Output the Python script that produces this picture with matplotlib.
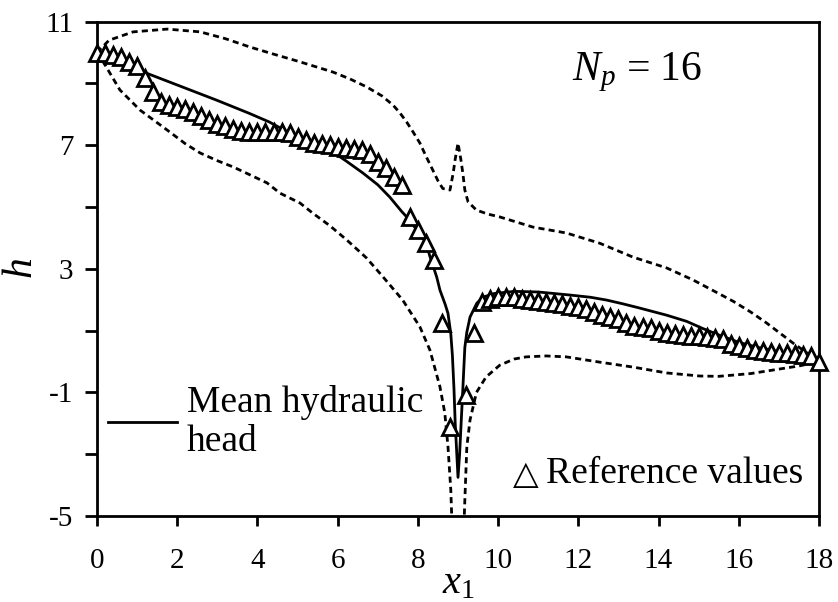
import numpy as np
import matplotlib
matplotlib.use("Agg")
import matplotlib.pyplot as plt

plt.rcParams["font.family"] = ["Liberation Serif", "DejaVu Serif"]
plt.rcParams["mathtext.fontset"] = "custom"
plt.rcParams["mathtext.rm"] = "Liberation Serif"
plt.rcParams["mathtext.it"] = "Liberation Serif:italic"

# reference hydraulic head (grid step 0.2, no value at x1 = 9)
x_ref = [0.0, 0.2, 0.4, 0.6, 0.8, 1.0, 1.2, 1.4, 1.6, 1.8, 2.0, 2.2, 2.4, 2.6, 2.8,
         3.0, 3.2, 3.4, 3.6, 3.8, 4.0, 4.2, 4.4, 4.6, 4.8, 5.0, 5.2, 5.4, 5.6, 5.8,
         6.0, 6.2, 6.4, 6.6, 6.8, 7.0, 7.2, 7.4, 7.6, 7.8, 8.0, 8.2, 8.4, 8.6, 8.8,
         9.2, 9.4, 9.6, 9.8, 10.0, 10.2, 10.4, 10.6, 10.8, 11.0, 11.2, 11.4, 11.6,
         11.8, 12.0, 12.2, 12.4, 12.6, 12.8, 13.0, 13.2, 13.4, 13.6, 13.8, 14.0,
         14.2, 14.4, 14.6, 14.8, 15.0, 15.2, 15.4, 15.6, 15.8, 16.0, 16.2, 16.4,
         16.6, 16.8, 17.0, 17.2, 17.4, 17.6, 17.8, 18.0]
h_ref = [10.0, 10.0, 9.92, 9.85, 9.68, 9.58, 9.18, 8.72, 8.40, 8.30, 8.24, 8.17, 8.08,
         7.95, 7.82, 7.69, 7.62, 7.53, 7.45, 7.43, 7.42, 7.42, 7.42, 7.42, 7.40, 7.27,
         7.17, 7.08, 7.05, 7.01, 6.94, 6.91, 6.88, 6.85, 6.72, 6.46, 6.27, 5.97, 5.71,
         4.68, 4.25, 3.83, 3.28, 1.25, -2.12,
         -1.08, 0.93, 1.92, 2.02, 2.08, 2.08, 2.08, 2.02, 1.99, 1.96, 1.92, 1.89, 1.86,
         1.80, 1.77, 1.70, 1.61, 1.51, 1.45, 1.38, 1.24, 1.15, 1.12, 1.08, 0.99,
         0.93, 0.89, 0.86, 0.83, 0.83, 0.80, 0.77, 0.74, 0.58, 0.51, 0.45, 0.38,
         0.35, 0.32, 0.28, 0.28, 0.25, 0.22, 0.19, 0.0]

# mean hydraulic head, N_p = 16
x_mean = [0.0, 0.5, 1.0, 1.2, 2.0, 3.0, 3.8, 4.3, 4.65, 5.2, 5.8, 6.2, 6.63, 7.0,
          7.3, 7.6, 7.8, 8.0, 8.2, 8.3, 8.47, 8.55, 8.68, 8.75, 8.82, 8.86, 8.9,
          8.93, 8.97, 9.0, 9.04, 9.07, 9.12, 9.17, 9.22, 9.3, 9.47, 9.62, 9.9, 10.4,
          11.0, 11.8, 12.3, 12.7, 13.1, 13.5, 14.2, 14.7, 15.1, 15.5, 16.0, 16.5,
          17.0, 17.5, 18.0]
h_mean = [10.0, 9.9, 9.62, 9.35, 8.95, 8.45, 8.03, 7.75, 7.5, 7.15, 6.85, 6.5, 6.1,
          5.72, 5.32, 4.85, 4.57, 4.2, 3.85, 3.4, 2.73, 2.31, 1.85, 1.56, 0.9, 0.2,
          -0.9, -2.0, -3.0, -3.75, -3.0, -2.2, -0.9, 0.45, 0.95, 1.44, 1.89, 2.08,
          2.2, 2.27, 2.25, 2.15, 2.08, 1.99, 1.87, 1.74, 1.5, 1.3, 1.07, 0.86, 0.62,
          0.45, 0.32, 0.2, 0.0]

# upper bound of the head
x_upper = [0.0, 0.3, 0.9, 1.75, 2.57, 3.2, 3.81, 4.4, 5.06, 5.88, 6.3, 6.72, 7.1,
           7.38, 7.55, 7.72, 7.87, 8.05, 8.2, 8.37, 8.5, 8.62, 8.8, 8.88, 8.93, 9.0,
           9.07, 9.12, 9.17, 9.25, 9.46, 9.75, 10.04, 10.87, 11.7, 12.53, 13.36,
           14.2, 14.86, 15.5, 15.86, 16.3, 16.69, 17.35, 18.0]
h_upper = [10.0, 10.4, 10.67, 10.76, 10.67, 10.45, 10.18, 9.95, 9.7, 9.37, 9.15,
           8.89, 8.6, 8.3, 8.05, 7.75, 7.45, 7.07, 6.65, 6.2, 5.85, 5.6, 5.55, 6.1,
           6.55, 7.07, 6.55, 6.1, 5.55, 5.17, 4.9, 4.77, 4.68, 4.35, 4.16, 3.83,
           3.38, 3.03, 2.64, 2.2, 1.95, 1.6, 1.25, 0.6, 0.0]

# lower bound of the head
x_lower = [0.0, 0.2, 0.57, 1.07, 1.74, 2.2, 2.57, 3.0, 3.39, 3.8, 4.24, 4.56, 5.06,
           5.38, 5.8, 6.23, 6.72, 7.13, 7.62, 8.05, 8.3, 8.55, 8.67, 8.75, 8.82,
           8.87, 9.13, 9.17, 9.22, 9.3, 9.46, 9.7, 10.04, 10.4, 10.7, 11.2, 11.7,
           12.53, 13.36, 14.2, 15.03, 15.5, 15.86, 16.3, 16.69, 17.52, 18.0]
h_lower = [10.0, 9.6, 8.79, 8.14, 7.5, 7.05, 6.75, 6.5, 6.3, 6.05, 5.78, 5.45, 5.13,
           4.8, 4.4, 3.93, 3.35, 2.74, 1.99, 1.12, 0.37, -0.82, -1.66, -2.76, -4.15,
           -6.0, -6.0, -4.5, -2.76, -1.89, -1.0, -0.5, -0.12, 0.08, 0.15, 0.18,
           0.15, -0.02, -0.18, -0.37, -0.47, -0.48, -0.44, -0.39, -0.31, -0.14, 0.0]

x_ticks = [0, 2, 4, 6, 8, 10, 12, 14, 16, 18]
y_ticks = [-5, -3, -1, 1, 3, 5, 7, 9, 11]
y_tick_labels = ["-5", "", "-1", "", "3", "", "7", "", "11"]

fig = plt.figure(figsize=(8.38, 6.02), dpi=100)
ax = fig.add_axes([0.1158, 0.1429, 0.8615, 0.8211])

dash = (0, (2.2, 1.5))
ax.plot(x_upper, h_upper, color="black", lw=2, ls=dash, zorder=2)
ax.plot(x_lower, h_lower, color="black", lw=2, ls=dash, zorder=2)
mean_line, = ax.plot(x_mean, h_mean, color="black", lw=2, zorder=3)
ax.plot(x_ref, h_ref, ls="none", marker="^", ms=11, mfc="white", mec="black",
        mew=2, zorder=4, clip_on=False)

ax.set_xlim(0, 18)
ax.set_ylim(-5, 11)
ax.set_xticks(x_ticks)
ax.set_yticks(y_ticks)
ax.set_yticklabels(y_tick_labels)
ax.tick_params(axis="x", direction="out", length=7, width=2, labelsize=21, pad=16)
ax.tick_params(axis="y", direction="out", length=9, width=2, labelsize=21, pad=8)
for side in ax.spines.values():
    side.set_linewidth(2)

ax.set_xlabel(r"$x_1$", fontsize=29, labelpad=-6)
ax.set_ylabel(r"$h$", fontsize=30, labelpad=3)

ax.text(0.838, 0.882, r"$N_p$ = 16", transform=ax.transAxes, fontsize=30,
        ha="right", va="baseline")

ref_txt = ax.text(0.978, 0.067, "Reference values", transform=ax.transAxes,
                  fontsize=27, ha="right", va="baseline")
ax.annotate("\u25b3", xy=(0, 0), xycoords=ref_txt, xytext=(-5, 0),
            textcoords="offset points", fontsize=24, ha="right", va="bottom",
            family=["DejaVu Sans"])

ax.legend([mean_line], ["Mean hydraulic\nhead"], loc="center left",
          bbox_to_anchor=(0.015, 0.19), frameon=False, fontsize=27,
          handlelength=1.85, handletextpad=0.25, borderpad=0, borderaxespad=0)

fig.savefig("out.png", dpi=100)
